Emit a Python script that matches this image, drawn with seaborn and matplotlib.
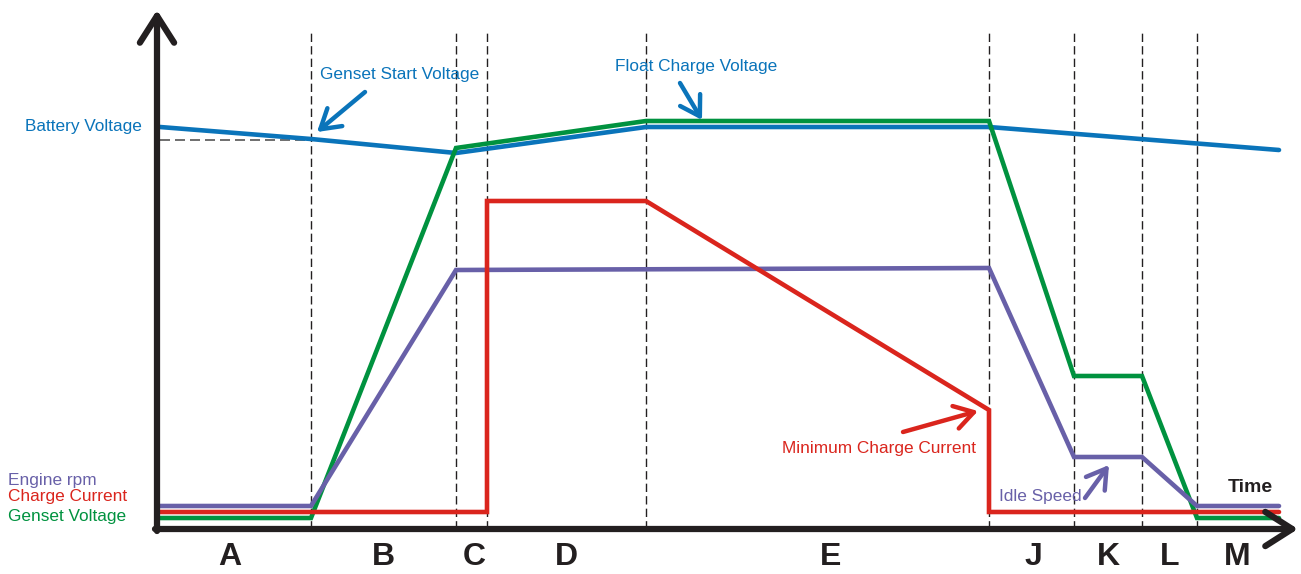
import matplotlib
matplotlib.use("Agg")
import matplotlib.pyplot as plt
import seaborn as sns
import pandas as pd

sns.set_theme(style="white")
plt.rcParams["font.family"] = ["Liberation Sans", "DejaVu Sans"]

BLUE = "#0A74BA"
GREEN = "#00923F"
RED = "#DA251D"
PURPLE = "#6860A8"
BLACK = "#231F20"

# phase boundaries (time units) and phase letters
boundaries = [154, 299, 330, 489, 832, 917, 985, 1040]
phases = ["A", "B", "C", "D", "E", "J", "K", "L", "M"]
phase_centers = [73, 226, 317, 409, 674, 876, 951, 1013, 1080]

# series: (time, level)
batt_t = [3, 154, 299, 489, 832, 1122]
batt_v = [402, 390, 376, 402, 402, 379]

gen_t = [3, 154, 299, 489, 832, 917, 985, 1040, 1122]
gen_v = [11, 11, 381, 408, 408, 153, 153, 11, 11]

rpm_t = [3, 154, 299, 832, 917, 985, 1040, 1122]
rpm_v = [23, 23, 259, 261, 72, 72, 23, 23]

cur_t = [3, 330, 330, 489, 832, 832, 1122]
cur_v = [17, 17, 328, 328, 119, 17, 17]

genset_start_level = 389

fig = plt.figure(figsize=(13.01, 5.74), dpi=100)
ax = fig.add_axes([157 / 1301, 45 / 574, 1141 / 1301, 517 / 574])
ax.set_xlim(0, 1141)
ax.set_ylim(0, 517)
ax.axis("off")

# dashed phase boundaries
ax.vlines(boundaries, 0, 499, colors=BLACK, linestyles=(0, (6, 3)), lw=1.0, zorder=1)
ax.hlines(genset_start_level, 3, 154, colors="#555555", linestyles=(0, (6, 3)), lw=1.2, zorder=1)

series = [
    (batt_t, batt_v, BLUE),
    (gen_t, gen_v, GREEN),
    (rpm_t, rpm_v, PURPLE),
    (cur_t, cur_v, RED),
]
for t, v, c in series:
    df = pd.DataFrame({"t": t, "v": v})
    sns.lineplot(data=df, x="t", y="v", sort=False, estimator=None, color=c,
                 lw=3.3, ax=ax, solid_joinstyle="miter", zorder=3)

# axes with arrow heads
axis_kw = dict(arrowstyle="->,head_length=0.88,head_width=0.56", lw=4.5, color=BLACK,
               shrinkA=0, shrinkB=0, mutation_scale=22)
ax.annotate("", xy=(0, 519), xytext=(0, -2), arrowprops=axis_kw, annotation_clip=False)
ax.annotate("", xy=(1141, 0), xytext=(-2, 0), arrowprops=axis_kw, annotation_clip=False)

for lbl, xc in zip(phases, phase_centers):
    ax.text(xc, -28, lbl, ha="center", va="center", fontsize=23, fontweight="bold",
            color=BLACK, clip_on=False)

# labels
fs = 12.4
ax.text(-15, 402, "Battery Voltage", ha="right", va="center", fontsize=fs, color=BLUE, clip_on=False)
ax.text(-149, 49, "Engine rpm", ha="left", va="center", fontsize=fs, color=PURPLE, clip_on=False)
ax.text(-149, 32, "Charge Current", ha="left", va="center", fontsize=fs, color=RED, clip_on=False)
ax.text(-149, 13, "Genset Voltage", ha="left", va="center", fontsize=fs, color=GREEN, clip_on=False)
ax.text(1071, 41, "Time", ha="left", va="center", fontsize=14, fontweight="bold", color=BLACK)

pointer_kw = dict(arrowstyle="->,head_length=0.62,head_width=0.38", lw=3.2,
                  shrinkA=0, shrinkB=0, mutation_scale=22)
ax.text(163, 454, "Genset Start Voltage", fontsize=fs, color=BLUE, va="center", ha="left")
ax.annotate("", xy=(160, 397), xytext=(208, 437), arrowprops=dict(pointer_kw, color=BLUE))
ax.text(458, 462, "Float Charge Voltage", fontsize=fs, color=BLUE, va="center", ha="left")
ax.annotate("", xy=(545, 409), xytext=(523, 446), arrowprops=dict(pointer_kw, color=BLUE))
ax.text(625, 80, "Minimum Charge Current", fontsize=fs, color=RED, va="center", ha="left")
ax.annotate("", xy=(821, 118), xytext=(746, 97), arrowprops=dict(pointer_kw, color=RED))
ax.text(842, 32, "Idle Speed", fontsize=fs, color=PURPLE, va="center", ha="left")
ax.annotate("", xy=(952, 64), xytext=(928, 31), arrowprops=dict(pointer_kw, color=PURPLE))

fig.savefig("out.png", dpi=100)
